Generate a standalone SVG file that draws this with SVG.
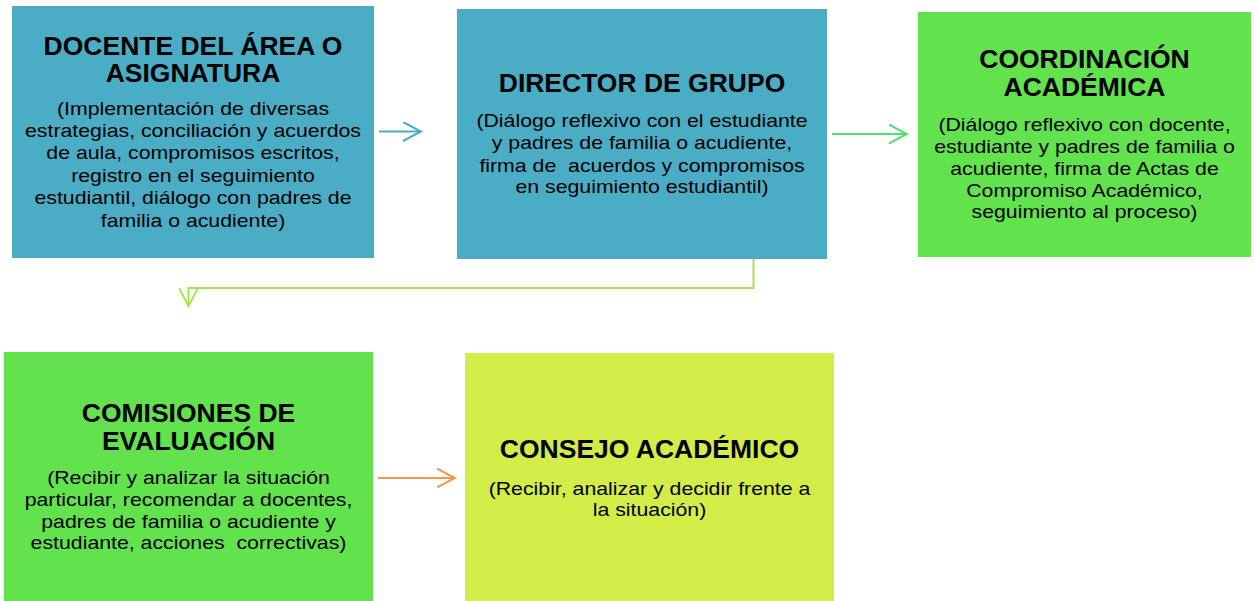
<svg xmlns="http://www.w3.org/2000/svg" width="1255" height="601" viewBox="0 0 1255 601">
  <style>
    .h { font-family: "Liberation Sans", Arial, Helvetica, sans-serif; font-weight: bold; font-size: 25px; text-anchor: middle; fill: #000; }
    .b { font-family: "Liberation Sans", Arial, Helvetica, sans-serif; font-size: 18px; text-anchor: middle; fill: #000; white-space: pre; }
    .blue { fill: #4BACC6; }
    .green { fill: #62E24C; }
    .lime { fill: #D4EC48; }
    .conn { fill: none; stroke-width: 2; }
  </style>
  <defs>
    <marker id="aBlue" viewBox="0 0 20 20" refX="18" refY="10" markerWidth="20" markerHeight="20" markerUnits="userSpaceOnUse" orient="auto">
      <path d="M0,0.5 L18,10 L0,19.5" fill="none" stroke="#4BACC6" stroke-width="2"/>
    </marker>
    <marker id="aLime" viewBox="0 0 20 20" refX="18" refY="10" markerWidth="20" markerHeight="20" markerUnits="userSpaceOnUse" orient="auto">
      <path d="M0,0.5 L18,10 L0,19.5" fill="none" stroke="#A6E44A" stroke-width="2"/>
    </marker>
    <marker id="aGreen" viewBox="0 0 20 20" refX="18" refY="10" markerWidth="20" markerHeight="20" markerUnits="userSpaceOnUse" orient="auto">
      <path d="M0,0.5 L18,10 L0,19.5" fill="none" stroke="#4FE074" stroke-width="2"/>
    </marker>
    <marker id="aOrange" viewBox="0 0 20 20" refX="18" refY="10" markerWidth="20" markerHeight="20" markerUnits="userSpaceOnUse" orient="auto">
      <path d="M0,0.5 L18,10 L0,19.5" fill="none" stroke="#F79646" stroke-width="2"/>
    </marker>
  </defs>

  <rect x="0" y="0" width="1255" height="601" fill="#FFFFFF"/>

  <g id="connectors">
    <path class="conn" d="M379,131.5 H421" stroke="#4BACC6" marker-end="url(#aBlue)"/>
    <path class="conn" d="M753.5,259 V288 H188.5 V306" stroke="#A6E44A" marker-end="url(#aLime)"/>
    <path class="conn" d="M832,134 H907" stroke="#4FE074" marker-end="url(#aGreen)"/>
    <path class="conn" d="M378,478 H455" stroke="#F79646" marker-end="url(#aOrange)"/>
  </g>

  <g id="docente">
    <rect class="blue" x="12" y="6" width="362" height="252"/>
    <g transform="translate(193 0) scale(1.06 1)">
      <text class="h" x="0" y="55">DOCENTE DEL ÁREA O</text>
      <text class="h" x="0" y="82">ASIGNATURA</text>
    </g>
    <g transform="translate(193 0) scale(1.183 1)">
      <text class="b" x="0" y="115">(Implementación de diversas</text>
      <text class="b" x="0" y="137">estrategias, conciliación y acuerdos</text>
      <text class="b" x="0" y="159.5">de aula, compromisos escritos,</text>
      <text class="b" x="0" y="181.8">registro en el seguimiento</text>
      <text class="b" x="0" y="204.2">estudiantil, diálogo con padres de</text>
      <text class="b" x="0" y="226.7">familia o acudiente)</text>
    </g>
  </g>

  <g id="director">
    <rect class="blue" x="457" y="9" width="370" height="250"/>
    <g transform="translate(642 0) scale(1.06 1)">
      <text class="h" x="0" y="92">DIRECTOR DE GRUPO</text>
    </g>
    <g transform="translate(642 0) scale(1.183 1)">
      <text class="b" x="0" y="127.3">(Diálogo reflexivo con el estudiante</text>
      <text class="b" x="0" y="149.3">y padres de familia o acudiente,</text>
      <text class="b" x="0" y="171.6" xml:space="preserve">firma de  acuerdos y compromisos</text>
      <text class="b" x="0" y="193.4">en seguimiento estudiantil)</text>
    </g>
  </g>

  <g id="coordinacion">
    <rect class="green" x="918" y="12" width="333" height="245"/>
    <g transform="translate(1084.5 0) scale(1.06 1)">
      <text class="h" x="0" y="68">COORDINACIÓN</text>
      <text class="h" x="0" y="96.5">ACADÉMICA</text>
    </g>
    <g transform="translate(1084.5 0) scale(1.183 1)">
      <text class="b" x="0" y="130.7">(Diálogo reflexivo con docente,</text>
      <text class="b" x="0" y="152.7">estudiante y padres de familia o</text>
      <text class="b" x="0" y="175">acudiente, firma de Actas de</text>
      <text class="b" x="0" y="196.7">Compromiso Académico,</text>
      <text class="b" x="0" y="218.5">seguimiento al proceso)</text>
    </g>
  </g>

  <g id="comisiones">
    <rect class="green" x="4" y="352" width="369" height="249"/>
    <g transform="translate(188.5 0) scale(1.06 1)">
      <text class="h" x="0" y="422.5">COMISIONES DE</text>
      <text class="h" x="0" y="450.5">EVALUACIÓN</text>
    </g>
    <g transform="translate(188.5 0) scale(1.183 1)">
      <text class="b" x="0" y="484.5">(Recibir y analizar la situación</text>
      <text class="b" x="0" y="506">particular, recomendar a docentes,</text>
      <text class="b" x="0" y="527.7">padres de familia o acudiente y</text>
      <text class="b" x="0" y="549.3" xml:space="preserve">estudiante, acciones  correctivas)</text>
    </g>
  </g>

  <g id="consejo">
    <rect class="lime" x="465" y="353" width="369" height="248"/>
    <g transform="translate(649.5 0) scale(1.06 1)">
      <text class="h" x="0" y="458.5">CONSEJO ACADÉMICO</text>
    </g>
    <g transform="translate(649.5 0) scale(1.183 1)">
      <text class="b" x="0" y="495">(Recibir, analizar y decidir frente a</text>
      <text class="b" x="0" y="516.5">la situación)</text>
    </g>
  </g>
</svg>
